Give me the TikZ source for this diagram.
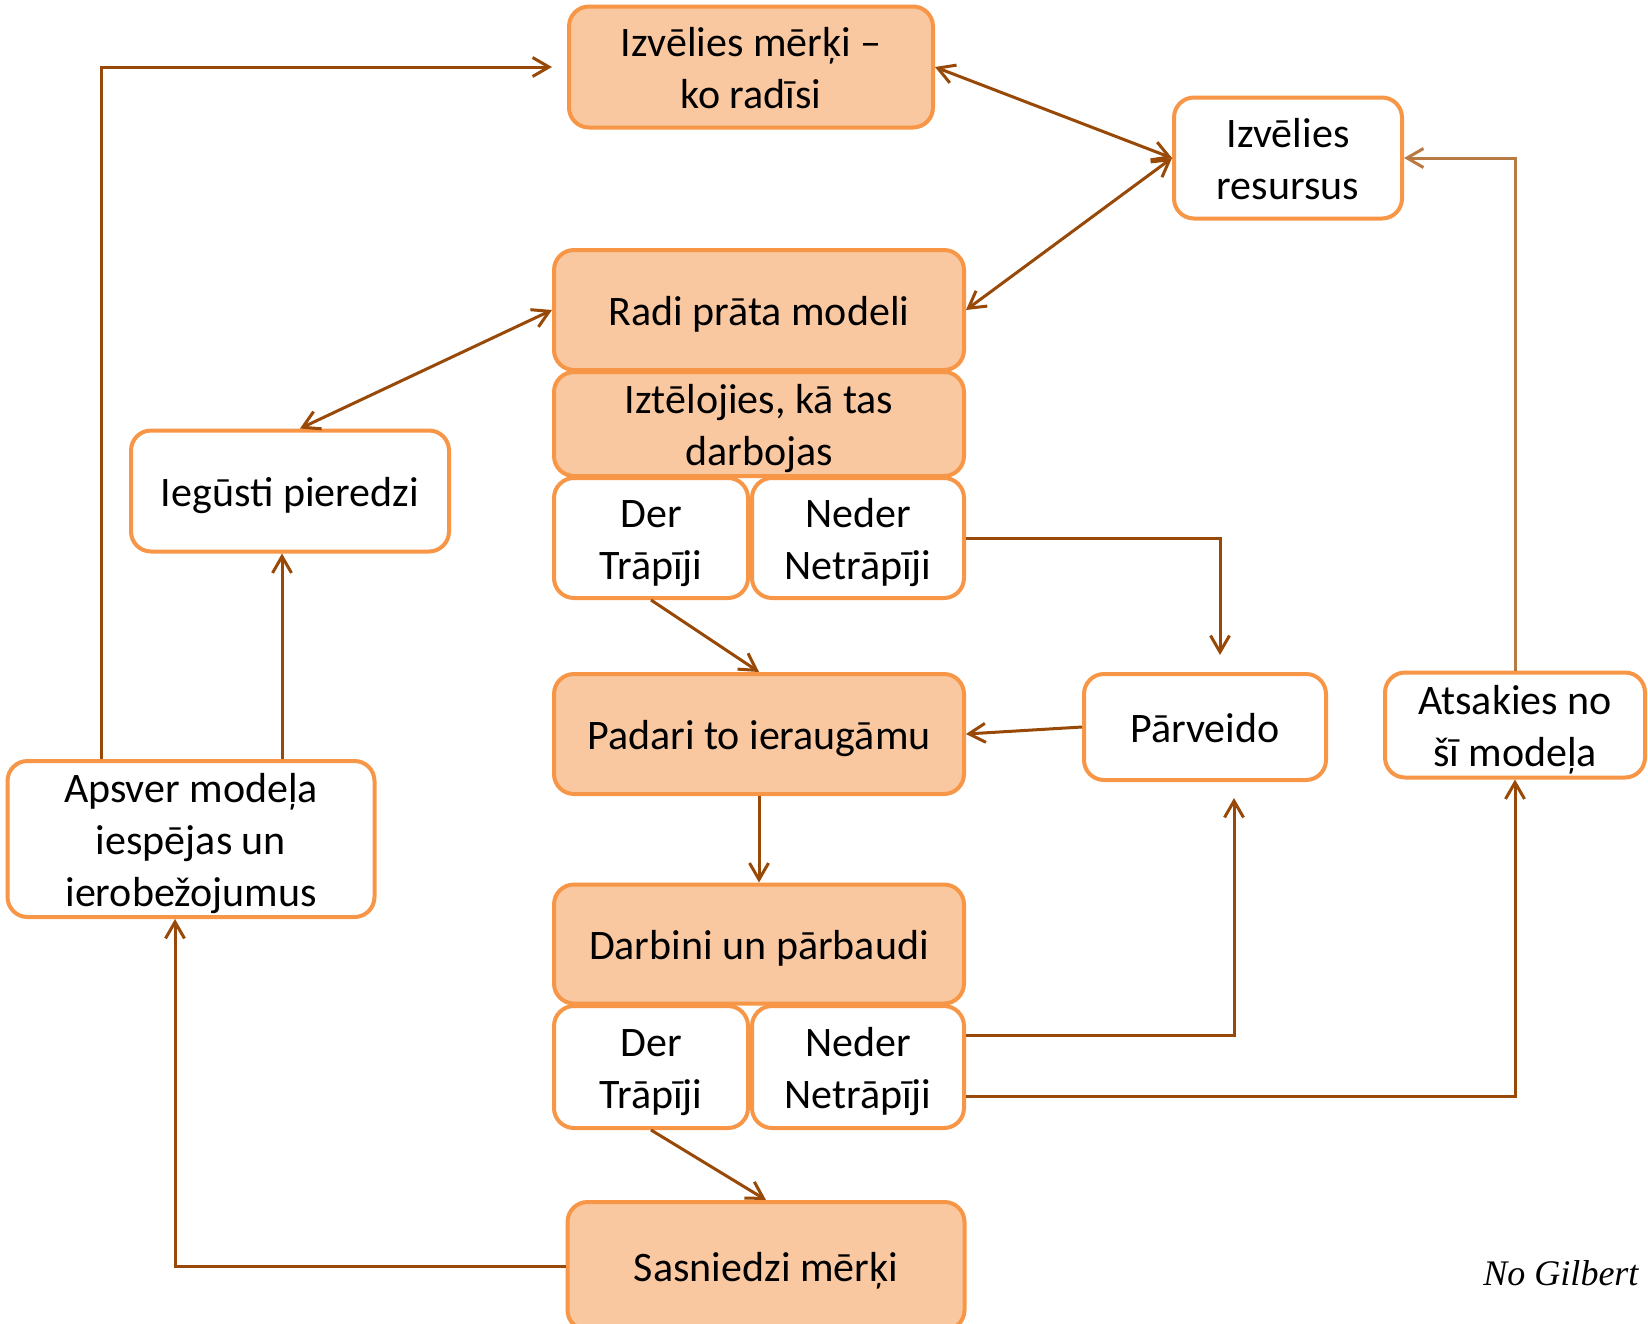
\documentclass[tikz,border=0pt]{standalone}
\usepackage{fontspec}
\setmainfont{Carlito}
\newfontfamily\signfont{Liberation Serif}
\usetikzlibrary{arrows.meta}

\definecolor{boxline}{HTML}{F79646}
\definecolor{boxfill}{HTML}{FAC8A0}
\definecolor{linkdark}{HTML}{984807}
\definecolor{linklight}{HTML}{B87A45}

\newcommand\boxstrut{\rule[-10.5pt]{0pt}{52pt}}

\begin{document}
\begin{tikzpicture}[x=1pt,y=-1pt,>={Straight Barb[angle=60:19pt]},
  every node/.style={font=\fontsize{42}{52}\selectfont,align=center},
  whitebox/.style={draw=boxline,line width=4pt,rounded corners=20pt,fill=white,inner sep=0pt},
  peachbox/.style={whitebox,fill=boxfill},
  link/.style={draw=linkdark,line width=3pt}]
\useasboundingbox (0,0) rectangle (1648,1323);

%main column
\node[peachbox,minimum width=364pt,minimum height=121pt] (goal) at (751,67) {\boxstrut Izvēlies mērķi --\\ko radīsi\boxstrut};
\node[peachbox,minimum width=410pt,minimum height=120pt] (model) at (759,310) {\boxstrut Radi prāta modeli};
\node[peachbox,minimum width=410pt,minimum height=102pt] (imagine) at (759,424) {\boxstrut Iztēlojies, kā tas\\darbojas\boxstrut};
\node[whitebox,minimum width=194pt,minimum height=120pt] (fit1) at (651,538) {\boxstrut Der\\Trāpīji\boxstrut};
\node[whitebox,minimum width=212pt,minimum height=120pt] (miss1) at (858,538) {\boxstrut Neder\\Netrāpīji\boxstrut};
\node[peachbox,minimum width=410pt,minimum height=120pt] (show) at (759,734) {\boxstrut Padari to ieraugāmu};
\node[peachbox,minimum width=410pt,minimum height=119pt] (test) at (759,944) {\boxstrut Darbini un pārbaudi};
\node[whitebox,minimum width=194pt,minimum height=122pt] (fit2) at (651,1067) {\boxstrut Der\\Trāpīji\boxstrut};
\node[whitebox,minimum width=212pt,minimum height=122pt] (miss2) at (858,1067) {\boxstrut Neder\\Netrāpīji\boxstrut};
\node[peachbox,minimum width=397pt,minimum height=128pt] (reach) at (766,1266) {\boxstrut Sasniedzi mērķi};

%side boxes
\node[whitebox,minimum width=228pt,minimum height=121pt] (tools) at (1288,158) {\boxstrut Izvēlies\\resursus\boxstrut};
\node[whitebox,minimum width=318pt,minimum height=121pt] (learn) at (290,491) {\boxstrut Iegūsti pieredzi};
\node[whitebox,minimum width=242pt,minimum height=106pt] (redo) at (1205,727) {\boxstrut Pārveido};
\node[whitebox,minimum width=260pt,minimum height=105pt] (drop) at (1515,725) {\boxstrut Atsakies no\\šī modeļa\boxstrut};
\node[whitebox,minimum width=367pt,minimum height=152pt] (weigh) at (191,839) {\boxstrut Apsver modeļa\\iespējas un\\ierobežojumus\boxstrut};

\node[anchor=base east,font=\signfont\itshape\fontsize{36}{40}\selectfont] (sign) at (1642,1285) {No Gilbert};

%connectors
\draw[link,<->] (goal.east) -- (tools.west);
\draw[link,<->] (tools.west) -- (model.east);
\draw[link,<->] (model.west) -- ([xshift=10pt]learn.north);
\draw[link,->] ([xshift=-90pt]weigh.north) |- ([xshift=-15pt]goal.west);
\draw[link,->] ([xshift=91pt]weigh.north) -- ([xshift=91pt]weigh.north |- learn.south);
\draw[link,->] (fit1.south) -- (show.north);
\draw[link,->] (miss1.east) -| ([xshift=15pt,yshift=17pt]redo.north);
\draw[link,->] (redo.west) -- (show.east);
\draw[link,->] (show.south) -- (test.north);
\draw[link,->] ([yshift=32pt]miss2.east) -| ([xshift=29pt,yshift=-16pt]redo.south);
\draw[link,->] ([yshift=-29pt]miss2.east) -| (drop.south);
\draw[link,->,draw=linklight] (drop.north) |- (tools.east);
\draw[link,->] (fit2.south) -- (reach.north);
\draw[link,->] (reach.west) -| ([xshift=-16pt]weigh.south);
\end{tikzpicture}
\end{document}
